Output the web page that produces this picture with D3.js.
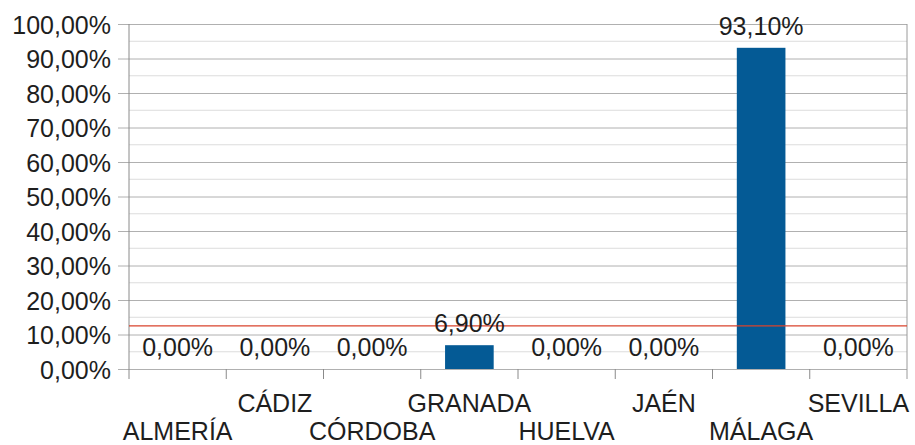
<!DOCTYPE html>
<html>
<head>
<meta charset="utf-8">
<script src="https://cdn.jsdelivr.net/npm/d3@7"></script>
<style>
  body { margin: 0; background: #fff; }
  svg { display: block; font-family: "Liberation Sans", Arial, sans-serif; }
</style>
</head>
<body>
<svg></svg>
<script>
// data
var provinces = ["ALMERÍA", "CÁDIZ", "CÓRDOBA", "GRANADA", "HUELVA", "JAÉN", "MÁLAGA", "SEVILLA"];
var shares = [0, 0, 0, 6.9, 0, 0, 93.1, 0];
var yTicks = [0, 10, 20, 30, 40, 50, 60, 70, 80, 90, 100];
var minorTicks = [5, 15, 25, 35, 45, 55, 65, 75, 85, 95];
var refLine = 12.5;

// dimensions
var margin = {top: 24, right: 8, bottom: 76, left: 129},
    width = 915 - margin.left - margin.right,
    height = 445 - margin.top - margin.bottom;

var svg = d3.select("svg")
    .attr("width", 915)
    .attr("height", 445)
  .append("g")
    .attr("transform", "translate(" + margin.left + "," + margin.top + ")");

var x = d3.scaleBand()
    .domain(provinces)
    .range([0, width])
    .paddingInner(0.5)
    .paddingOuter(0.25);

var y = d3.scaleLinear()
    .domain([0, 100])
    .range([height, 0]);

var fmt = function(v) { return d3.format(".2f")(v).replace(".", ",") + "%"; };

// minor gridlines
svg.append("g")
  .selectAll("line")
  .data(minorTicks)
  .enter().append("line")
    .attr("x1", 0).attr("x2", width)
    .attr("y1", function(d) { return y(d); })
    .attr("y2", function(d) { return y(d); })
    .attr("stroke", "#dcdcdc")
    .attr("stroke-width", 1);

// major gridlines + y axis
var yAxis = svg.append("g")
    .call(d3.axisLeft(y).tickValues(yTicks).tickSize(11).tickPadding(7).tickFormat(fmt));
yAxis.select(".domain").remove();
yAxis.selectAll(".tick line")
    .attr("x2", width)
    .attr("x1", -11)
    .attr("stroke", "#b0b0b0");
yAxis.selectAll(".tick text")
    .attr("font-size", 25)
    .attr("fill", "#1e1e1e")
    .attr("dy", "0.36em");

// left axis line and right border
svg.append("line")
    .attr("x1", 0).attr("x2", 0)
    .attr("y1", 0).attr("y2", height + 10)
    .attr("stroke", "#8a8a8a");
svg.append("line")
    .attr("x1", width).attr("x2", width)
    .attr("y1", 0).attr("y2", height + 10)
    .attr("stroke", "#9a9a9a");

// category boundary ticks
var step = x.step();
svg.append("g")
  .selectAll("line")
  .data(provinces.slice(1))
  .enter().append("line")
    .attr("x1", function(d) { return x(d) - step * 0.25; })
    .attr("x2", function(d) { return x(d) - step * 0.25; })
    .attr("y1", height)
    .attr("y2", height + 10)
    .attr("stroke", "#8a8a8a");

// bars
svg.append("g")
  .selectAll("rect")
  .data(shares)
  .enter().append("rect")
    .attr("x", function(d, i) { return x(provinces[i]); })
    .attr("width", x.bandwidth())
    .attr("y", function(d) { return y(d); })
    .attr("height", function(d) { return height - y(d); })
    .attr("fill", "#045a95");

// reference line
svg.append("line")
    .attr("x1", 0).attr("x2", width)
    .attr("y1", y(refLine)).attr("y2", y(refLine))
    .attr("stroke", "#d9432c")
    .attr("stroke-width", 1.2);

// data labels
svg.append("g")
  .selectAll("text")
  .data(shares)
  .enter().append("text")
    .attr("x", function(d, i) { return x(provinces[i]) + x.bandwidth() / 2; })
    .attr("y", function(d) { return y(d) - 13; })
    .attr("text-anchor", "middle")
    .attr("font-size", 25)
    .attr("fill", "#1e1e1e")
    .text(fmt);

// x category labels (staggered)
svg.append("g")
  .selectAll("text")
  .data(provinces)
  .enter().append("text")
    .attr("x", function(d) { return x(d) + x.bandwidth() / 2; })
    .attr("y", function(d, i) { return i % 2 === 0 ? height + 71 : height + 43; })
    .attr("text-anchor", "middle")
    .attr("font-size", 25)
    .attr("fill", "#1e1e1e")
    .text(function(d) { return d; });
</script>
</body>
</html>
